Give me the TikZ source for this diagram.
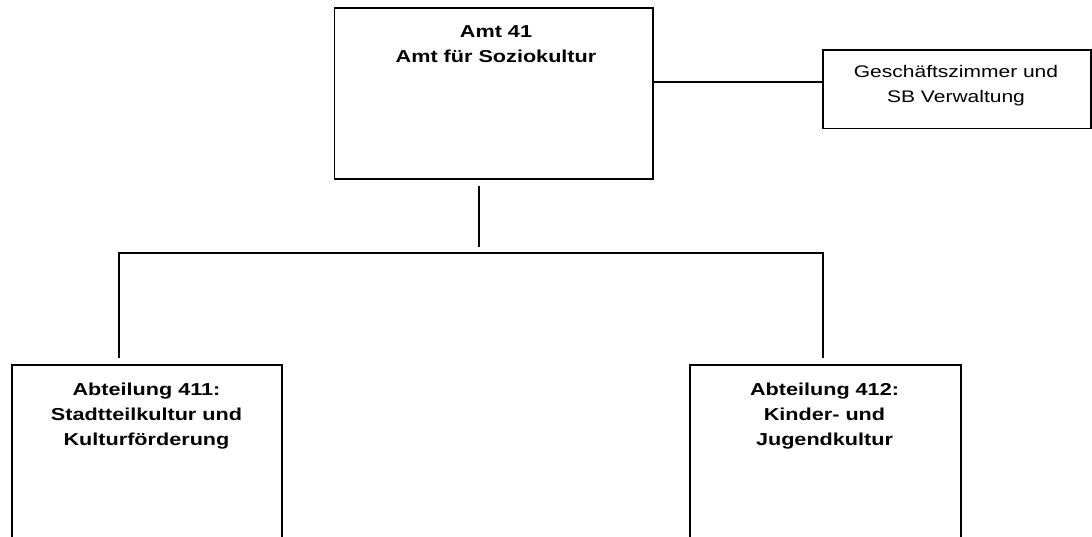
\documentclass[tikz,border=0pt]{standalone}
\usepackage{fontspec}
\setmainfont[FakeStretch=1.25]{Liberation Sans}
\begin{document}
\begin{tikzpicture}[x=1pt,y=-1pt,
  box/.style={draw=black, line width=1.8pt, rectangle, inner sep=0pt, anchor=north west},
  lbl/.style={align=center, inner sep=0pt, anchor=north, font=\fontsize{16.8}{25.5}\selectfont},
  blbl/.style={lbl, font=\fontsize{17.3}{25}\selectfont\bfseries},
  conn/.style={draw=black, line width=1.8pt}]
\useasboundingbox (0,0) rectangle (1092,537);
% boxes
\node[box, minimum width=318.5pt, minimum height=171pt] (amt) at (333.5,7) {};
\node[box, minimum width=268.6pt, minimum height=78.4pt] (gz) at (821.7,49.3) {};
\node[box, minimum width=270.6pt, minimum height=240pt] (a411) at (10.7,364.3) {};
\node[box, minimum width=270.7pt, minimum height=240pt] (a412) at (689.3,364.3) {};
% texts
\node[blbl] (amtT) at (496,25) {Amt 41\\Amt für Soziokultur};
\node[lbl] (gzT) at (956,65) {Geschäftszimmer und\\SB Verwaltung};
\node[blbl] (a411T) at (146.5,382.5) {Abteilung 411:\\Stadtteilkultur und\\Kulturförderung};
\node[blbl] (a412T) at (824.5,382.5) {Abteilung 412:\\Kinder- und\\Jugendkultur};
% connector coordinates
\coordinate (cy) at (0,81.7);
\coordinate (v1) at (478.7,186);
\coordinate (v2) at (478.7,247);
\coordinate (h1) at (119.3,252.7);
\coordinate (h2) at (822.7,252.7);
\coordinate (d1) at (119.3,358);
\coordinate (d2) at (822.7,358);
% connectors
\draw[conn] (amt.east |- cy) -- (gz.west |- cy);
\draw[conn] (v1) -- (v2);
\draw[conn] (d1) -- (h1) -- (h2) -- (d2);
\end{tikzpicture}
\end{document}
